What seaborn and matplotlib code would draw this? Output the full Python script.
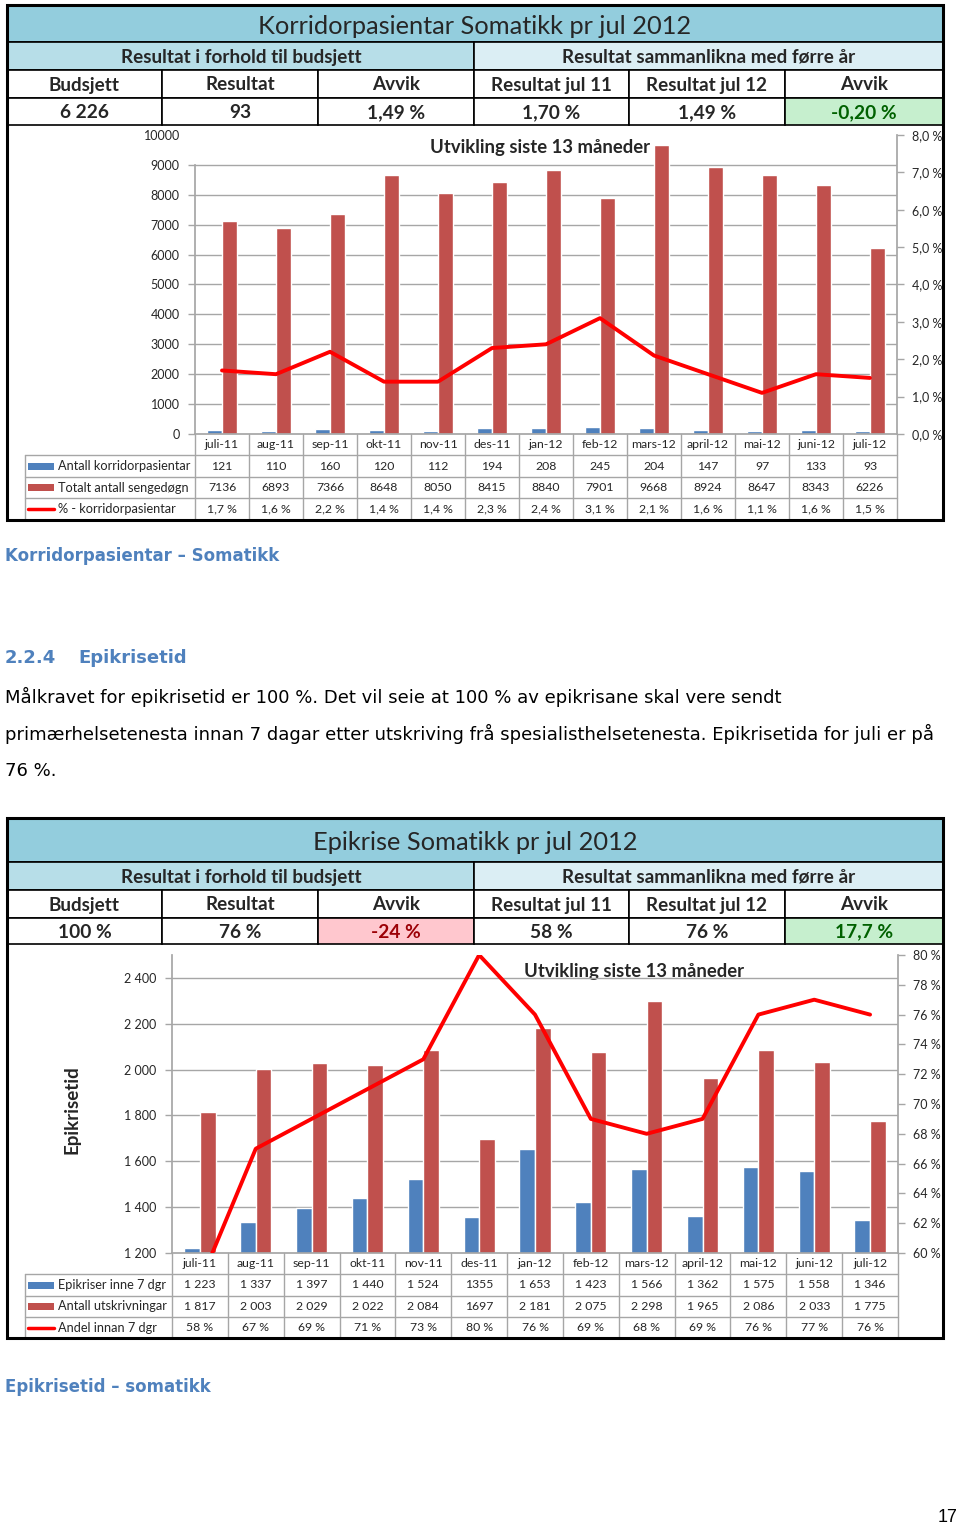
import numpy as np
import pandas as pd
import matplotlib
matplotlib.use("Agg")
import matplotlib.pyplot as plt
import seaborn as sns
from matplotlib.patches import Rectangle
from matplotlib.lines import Line2D

# ---------------- data ----------------
months = ["juli-11", "aug-11", "sep-11", "okt-11", "nov-11", "des-11", "jan-12",
          "feb-12", "mars-12", "april-12", "mai-12", "juni-12", "juli-12"]

korr_pasientar = [121, 110, 160, 120, 112, 194, 208, 245, 204, 147, 97, 133, 93]
korr_sengedogn = [7136, 6893, 7366, 8648, 8050, 8415, 8840, 7901, 9668, 8924, 8647, 8343, 6226]
korr_pct = [1.7, 1.6, 2.2, 1.4, 1.4, 2.3, 2.4, 3.1, 2.1, 1.6, 1.1, 1.6, 1.5]

epi_inne = [1223, 1337, 1397, 1440, 1524, 1355, 1653, 1423, 1566, 1362, 1575, 1558, 1346]
epi_utskr = [1817, 2003, 2029, 2022, 2084, 1697, 2181, 2075, 2298, 1965, 2086, 2033, 1775]
epi_pct = [58, 67, 69, 71, 73, 80, 76, 69, 68, 69, 76, 77, 76]
epi_inne_labels = ["1 223", "1 337", "1 397", "1 440", "1 524", "1355", "1 653",
                   "1 423", "1 566", "1 362", "1 575", "1 558", "1 346"]
epi_utskr_labels = ["1 817", "2 003", "2 029", "2 022", "2 084", "1697", "2 181",
                    "2 075", "2 298", "1 965", "2 086", "2 033", "1 775"]

col_heads = ["Budsjett", "Resultat", "Avvik", "Resultat jul 11", "Resultat jul 12", "Avvik"]
korr_head_vals = ["6 226", "93", "1,49 %", "1,70 %", "1,49 %", "-0,20 %"]
epi_head_vals = ["100 %", "76 %", "-24 %", "58 %", "76 %", "17,7 %"]

BLUE = "#4F81BD"
RED = "#C0504D"
LINE = "#FF0000"
GRID = "#A6A6A6"
TXT = "#262626"

sns.set_theme(style="white")
plt.rcParams["font.family"] = ["Lato", "DejaVu Sans"]

W, H = 960, 1525
fig = plt.figure(figsize=(W / 100, H / 100), dpi=100)
fig.patch.set_facecolor("white")

page = fig.add_axes([0, 0, 1, 1])
page.set_xlim(0, W)
page.set_ylim(H, 0)
page.axis("off")


def px_axes(x0, y0, x1, y1):
    return fig.add_axes([x0 / W, 1 - y1 / H, (x1 - x0) / W, (y1 - y0) / H])


COLS = [7, 162, 318, 474, 629, 785, 943]
HS = 13.6


def draw_header(rows, title, tsize, vals, special):
    y0, y1, y2, y3, y4 = rows
    page.add_patch(Rectangle((7, y0), 936, y1 - y0, fc="#93CDDD", ec="black", lw=1.2))
    page.text(475, (y0 + y1) / 2 + 3, title, ha="center", va="center",
              fontsize=tsize, color=TXT)
    page.add_patch(Rectangle((7, y1), 467, y2 - y1, fc="#B7DEE8", ec="black", lw=1.2))
    page.add_patch(Rectangle((474, y1), 469, y2 - y1, fc="#DBEEF4", ec="black", lw=1.2))
    page.text(241, (y1 + y2) / 2 + 1, "Resultat i forhold til budsjett", ha="center",
              va="center", fontsize=HS, fontweight="bold", color=TXT)
    page.text(709, (y1 + y2) / 2 + 1, "Resultat sammanlikna med førre år", ha="center",
              va="center", fontsize=HS, fontweight="bold", color=TXT)
    for i in range(6):
        xa, xb = COLS[i], COLS[i + 1]
        page.add_patch(Rectangle((xa, y2), xb - xa, y3 - y2, fc="white", ec="black", lw=1.2))
        page.text((xa + xb) / 2, (y2 + y3) / 2 + 1, col_heads[i], ha="center", va="center",
                  fontsize=HS, fontweight="bold", color=TXT)
        fc, tc = special.get(i, ("white", TXT))
        page.add_patch(Rectangle((xa, y3), xb - xa, y4 - y3, fc=fc, ec="black", lw=1.2))
        page.text((xa + xb) / 2, (y3 + y4) / 2 + 1, vals[i], ha="center", va="center",
                  fontsize=13.8, fontweight="bold", color=tc)


def draw_table(x0, x1, ytop, rows_y, legend_x, labels, kinds, row_texts):
    n = len(months)
    cw = (x1 - x0) / n
    lc = dict(color=GRID, lw=1)
    page.add_line(Line2D([x0, x1], [rows_y[0], rows_y[0]], **lc))
    for i in range(n + 1):
        xx = x0 + i * cw
        page.add_line(Line2D([xx, xx], [ytop, rows_y[-1]], **lc))
    for i, m in enumerate(months):
        page.text(x0 + (i + 0.5) * cw, (ytop + rows_y[0]) / 2, m, ha="center",
                  va="center", fontsize=8.8, color=TXT)
    for r in range(3):
        ya, yb = rows_y[r], rows_y[r + 1]
        page.add_line(Line2D([legend_x, x1], [yb, yb], **lc))
        yc = (ya + yb) / 2
        if kinds[r] == "line":
            page.add_line(Line2D([legend_x + 3, legend_x + 29], [yc, yc], color=LINE, lw=2.5))
        else:
            page.add_patch(Rectangle((legend_x + 3, yc - 3.5), 26, 7,
                                     fc=kinds[r], ec="none"))
        page.text(legend_x + 33, yc, labels[r], ha="left", va="center",
                  fontsize=9.2, color=TXT)
        for i in range(n):
            page.text(x0 + (i + 0.5) * cw, yc, row_texts[r][i], ha="center",
                      va="center", fontsize=8.8, color=TXT)
    page.add_line(Line2D([legend_x, legend_x], [rows_y[0], rows_y[-1]], **lc))
    page.add_line(Line2D([legend_x, x0], [rows_y[0], rows_y[0]], **lc))


def bar_chart(box, bars_a, bars_b, pct, ylim, yticks, grid_top, ylab_fmt,
              rlim, rticks, rfmt):
    ax = px_axes(*box)
    df = pd.DataFrame({
        "month": months * 2,
        "value": list(bars_a) + list(bars_b),
        "series": ["a"] * len(months) + ["b"] * len(months),
    })
    sns.barplot(data=df, x="month", y="value", hue="series", order=months,
                palette=[BLUE, RED], width=0.56, gap=0, saturation=1,
                legend=False, ax=ax, zorder=2)
    ax.set_xlim(-0.5, len(months) - 0.5)
    ax.set_ylim(*ylim)
    major = [v for v in yticks if v <= grid_top]
    extra = [v for v in yticks if v > grid_top]
    ax.set_yticks(major)
    ax.set_yticklabels([ylab_fmt(v) for v in major], fontsize=9, color=TXT)
    if extra:
        ax.set_yticks(extra, minor=True)
        ax.set_yticklabels([ylab_fmt(v) for v in extra], minor=True, fontsize=9, color=TXT)
        ax.tick_params(axis="y", which="minor", length=0, pad=11)
    ax.set_xticks([])
    ax.set_xlabel("")
    ax.set_ylabel("")
    ax.patch.set_alpha(0)
    for v in major:
        if v > ylim[0]:
            ax.axhline(v, color=GRID, lw=1, zorder=0)
    for s in ["top", "right"]:
        ax.spines[s].set_visible(False)
    ax.spines["left"].set_color(GRID)
    ax.spines["left"].set_bounds(ylim[0], min(grid_top, ylim[1]))
    ax.spines["bottom"].set_color(GRID)
    ax.tick_params(axis="y", which="major", length=5, width=1, color=GRID, left=True, pad=6)

    ax2 = ax.twinx()
    sns.lineplot(x=np.arange(len(months)), y=pct, ax=ax2, color=LINE, lw=2.8, zorder=5)
    ax2.set_ylim(*rlim)
    ax2.set_yticks(rticks)
    ax2.set_yticklabels([rfmt(v) for v in rticks], fontsize=9, color=TXT)
    ax2.set_xlim(-0.5, len(months) - 0.5)
    ax2.set_ylabel("")
    ax2.grid(False)
    for s in ["top", "left", "bottom"]:
        ax2.spines[s].set_visible(False)
    ax2.spines["right"].set_color(GRID)
    ax2.tick_params(axis="y", length=5, width=1, color=GRID, right=True, pad=6)
    return ax, ax2


# ---------------- block 1 : Korridorpasientar ----------------
draw_header([5, 42, 70, 98, 125], "Korridorpasientar Somatikk pr jul 2012", 18.3,
            korr_head_vals, {5: ("#C6EFCE", "#006100")})
ax1, ax1r = bar_chart((195, 135, 897, 434), korr_pasientar, korr_sengedogn, korr_pct,
                      (0, 10000), list(range(0, 10001, 1000)), 9000, lambda v: f"{v}",
                      (0, 8), list(range(0, 9)), lambda v: f"{v:.1f} %".replace(".", ","))
page.text(540, 147, "Utvikling siste 13 måneder", ha="center", va="center",
          fontsize=13.3, fontweight="bold", color=TXT, zorder=6)
draw_table(195, 897, 434, [455, 477, 498, 520], 25,
           ["Antall korridorpasientar", "Totalt antall sengedøgn", "% - korridorpasientar"],
           [BLUE, RED, "line"],
           [[str(v) for v in korr_pasientar], [str(v) for v in korr_sengedogn],
            [f"{v:.1f} %".replace(".", ",") for v in korr_pct]])
page.add_patch(Rectangle((7, 5), 936, 515, fc="none", ec="black", lw=2.2, zorder=10))

# ---------------- text ----------------
HBLUE = "#4F81BD"
BODY = ["DejaVu Sans"]
page.text(5, 556, "Korridorpasientar – Somatikk", ha="left", va="center",
          fontsize=12, fontweight="bold", color=HBLUE, family=BODY)
page.text(5, 658, "2.2.4", ha="left", va="center", fontsize=13, fontweight="bold",
          color=HBLUE, family=BODY)
page.text(78, 658, "Epikrisetid", ha="left", va="center", fontsize=13, fontweight="bold",
          color=HBLUE, family=BODY)
para = ["Målkravet for epikrisetid er 100 %. Det vil seie at 100 % av epikrisane skal vere sendt",
        "primærhelsetenesta innan 7 dagar etter utskriving frå spesialisthelsetenesta. Epikrisetida for juli er på",
        "76 %."]
for k, line in enumerate(para):
    page.text(5, 697 + 37 * k, line, ha="left", va="center", fontsize=13,
              color="black", family=BODY)

# ---------------- block 2 : Epikrise ----------------
draw_header([818, 862, 890, 918, 944], "Epikrise Somatikk pr jul 2012", 18.3,
            epi_head_vals, {2: ("#FFC7CE", "#9C0006"), 5: ("#C6EFCE", "#006100")})
ax2, ax2r = bar_chart((172, 955, 898, 1253), epi_inne, epi_utskr, epi_pct,
                      (1200, 2500), list(range(1200, 2401, 200)), 2500,
                      lambda v: f"{v // 1000} {v % 1000:03d}",
                      (60, 80), list(range(60, 81, 2)), lambda v: f"{v} %")
page.text(634, 971, "Utvikling siste 13 måneder", ha="center", va="center",
          fontsize=13.3, fontweight="bold", color=TXT, zorder=6,
          bbox=dict(fc="white", ec="none", pad=4))
page.text(72, 1110, "Epikrisetid", ha="center", va="center", rotation=90,
          fontsize=13.5, fontweight="bold", color=TXT)
draw_table(172, 898, 1253, [1274, 1296, 1317, 1338], 25,
           ["Epikriser inne 7 dgr", "Antall utskrivningar", "Andel innan 7 dgr"],
           [BLUE, RED, "line"],
           [epi_inne_labels, epi_utskr_labels, [f"{v} %" for v in epi_pct]])
page.add_patch(Rectangle((7, 818), 936, 520, fc="none", ec="black", lw=2.2, zorder=10))

page.text(5, 1387, "Epikrisetid – somatikk", ha="left", va="center",
          fontsize=12, fontweight="bold", color=HBLUE, family=BODY)
page.text(948, 1517, "17", ha="center", va="center", fontsize=13, color="black",
          family=["Liberation Sans", "DejaVu Sans"])

fig.savefig("out.png", dpi=100, facecolor="white")
